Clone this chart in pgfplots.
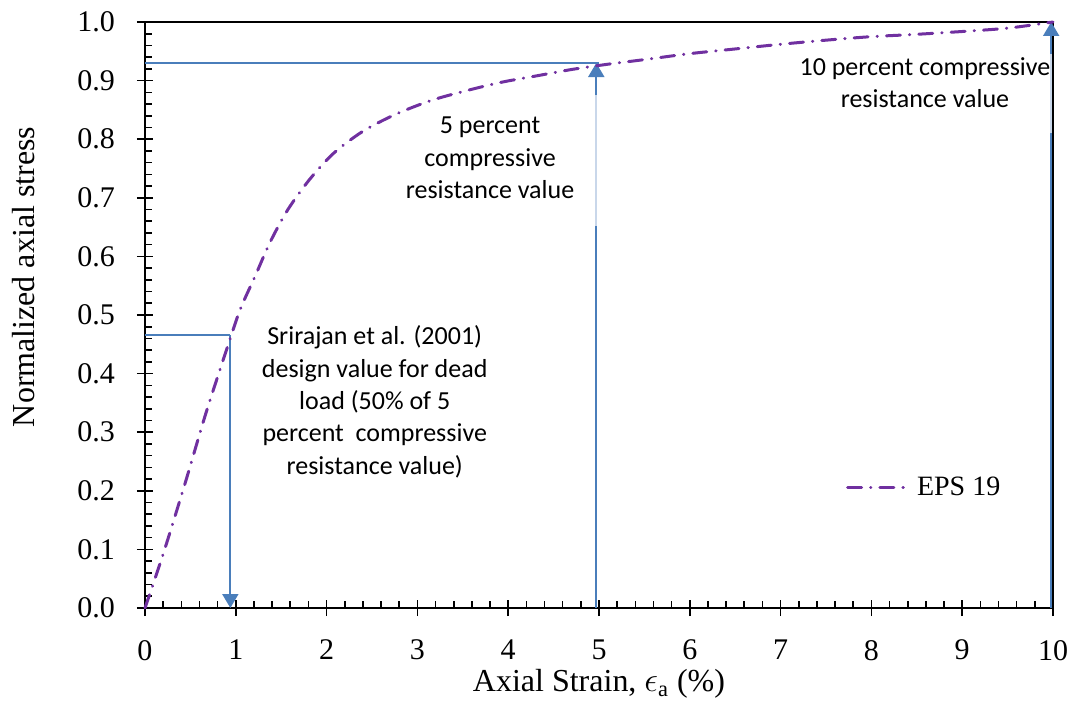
\documentclass[border=0pt]{standalone}
\usepackage{pgfplots}
\pgfplotsset{compat=1.18}
\usepackage{pgfplotstable}
\usepackage{fontspec}
\setmainfont{Liberation Serif}
\newfontfamily\calibri{Carlito}
\usetikzlibrary{arrows.meta}

\definecolor{epspurple}{HTML}{7030A0}
\definecolor{arrowblue}{HTML}{4A7EBB}
\definecolor{fadedblue}{HTML}{C9D7EA}

% Normalized stress-strain curve of EPS 19
\pgfplotstableread{
x      y
0      0
0.2    0.092
0.44   0.212
0.67   0.332
0.92   0.451
1.05   0.51
1.215  0.567
1.377  0.624
1.57   0.679
1.806  0.73
2.07   0.775
2.395  0.813
2.753  0.842
3.15   0.866
3.52   0.882
3.92   0.897
4.31   0.908
4.70   0.919
5.10   0.928
5.51   0.936
6.0    0.946
6.5    0.954
7.0    0.962
7.5    0.969
8.0    0.975
8.5    0.979
9.12   0.985
9.53   0.990
10     1.0
}\epsdata

\begin{document}
\begin{tikzpicture}
\useasboundingbox (-72.5pt,-47pt) rectangle (463pt,304pt);
\begin{axis}[
  at={(0,0)}, anchor=south west,
  scale only axis,
  width=454pt, height=293pt,
  xmin=0, xmax=10, ymin=0, ymax=1,
  xtick={0,1,...,10},
  ytick={0,0.1,...,1.0},
  minor x tick num=4,
  minor y tick num=4,
  xtick pos=bottom, ytick pos=left,
  tick align=inside,
  major tick length=8pt,
  minor tick length=3.5pt,
  major x tick style={yshift=-4pt},
  major y tick style={xshift=-4pt},
  every tick/.style={black, line width=0.8pt},
  axis line style={black, line width=0.8pt},
  /pgf/number format/assume math mode=true,
  yticklabel style={/pgf/number format/fixed, /pgf/number format/fixed zerofill,
    /pgf/number format/precision=1, xshift=-11.5pt},
  tick label style={font=\fontsize{15}{17}\selectfont},
  xticklabel style={yshift=-12.5pt},
  xlabel={Axial Strain, \ensuremath{\epsilon}\textsubscript{a} (\%)},
  ylabel={Normalized axial stress},
  label style={font=\fontsize{16}{18}\selectfont},
  xlabel style={yshift=2.5pt},
  ylabel style={at={(axis description cs:-0.134,0.565)}, anchor=center},
  legend style={draw=none, fill=none, at={(0.765,0.206)}, anchor=west,
    font=\fontsize{14}{16}\selectfont},
  legend image code/.code={\draw[#1] (0pt,0pt) -- (32pt,0pt);},
  clip=false,
]
% reference arrows
\draw[arrowblue, line width=1pt] (axis cs:0,0.466) -- (axis cs:0.94,0.466);
\draw[arrowblue, line width=1pt, -{Triangle[width=8pt,length=7pt]}] (axis cs:0.94,0.466) -- (axis cs:0.94,0);
\draw[arrowblue, line width=1pt] (axis cs:0,0.93) -- (axis cs:5.0,0.93);
\draw[arrowblue, line width=1pt] (axis cs:4.97,0) -- (axis cs:4.97,0.652);
\draw[fadedblue, line width=1pt] (axis cs:4.97,0.652) -- (axis cs:4.97,0.88);
\draw[arrowblue, line width=1pt, -{Triangle[width=8pt,length=7pt]}] (axis cs:4.97,0.875) -- (axis cs:4.97,0.93);
\draw[arrowblue, line width=1pt] (axis cs:9.98,0) -- (axis cs:9.98,0.81);
\draw[fadedblue, line width=1pt] (axis cs:9.98,0.81) -- (axis cs:9.98,0.95);
\draw[arrowblue, line width=1pt, -{Triangle[width=8pt,length=7pt]}] (axis cs:9.98,0.945) -- (axis cs:9.98,1.0);

\addplot[epspurple, line width=1.5pt, line cap=round, smooth,
  dash pattern=on 7pt off 4.5pt on 0.2pt off 4.5pt] table[x=x, y=y] {\epsdata};
\addlegendentry{EPS 19}

\node[align=center, font=\calibri\fontsize{13}{16.2}\selectfont] at (axis cs:2.53,0.352)
  {Srirajan et al. (2001)\\design value for dead\\load (50\% of 5\\percent\ \ compressive\\resistance value)};
\node[align=center, font=\calibri\fontsize{13}{16.2}\selectfont] at (axis cs:3.80,0.768)
  {5 percent\\compressive\\resistance value};
\node[align=center, font=\calibri\fontsize{13}{16.2}\selectfont] at (axis cs:8.59,0.896)
  {10 percent compressive\\resistance value};
\end{axis}
\end{tikzpicture}
\end{document}
